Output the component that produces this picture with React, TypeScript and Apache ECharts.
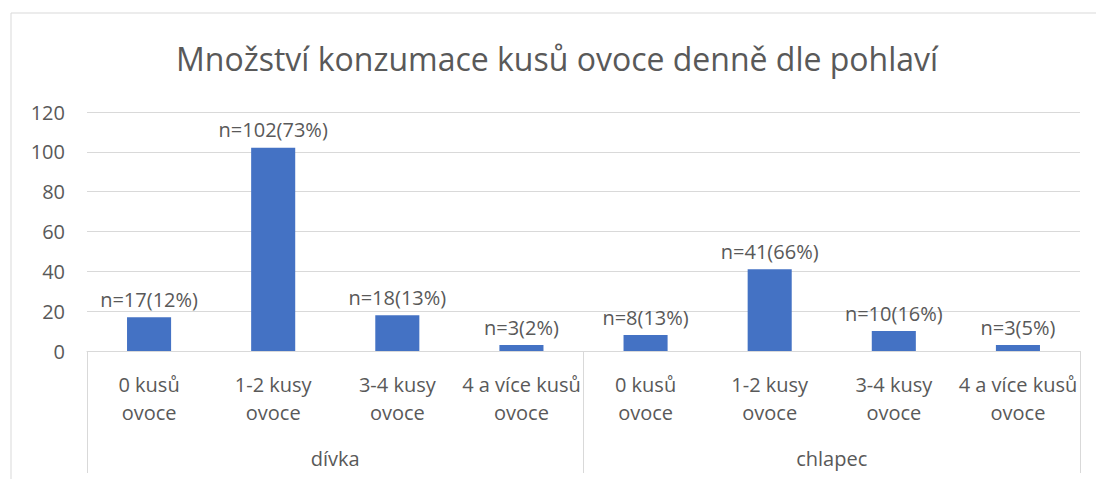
import React, { useEffect, useRef } from "react";
import * as echarts from "echarts";

const title = "Množství konzumace kusů ovoce denně dle pohlaví";
const categories = [
  "0 kusů\novoce",
  "1-2 kusy\novoce",
  "3-4 kusy\novoce",
  "4 a více kusů\novoce",
  "0 kusů\novoce",
  "1-2 kusy\novoce",
  "3-4 kusy\novoce",
  "4 a více kusů\novoce",
];
const groups = ["dívka", "chlapec"];
const values = [17, 102, 18, 3, 8, 41, 10, 3];
const labels = [
  "n=17(12%)",
  "n=102(73%)",
  "n=18(13%)",
  "n=3(2%)",
  "n=8(13%)",
  "n=41(66%)",
  "n=10(16%)",
  "n=3(5%)",
];
const yTicks = { min: 0, max: 120, interval: 20 };

const FONT = "'Open Sans', 'Noto Sans', sans-serif";
const TXT = "#595959";
const LINE = "#d9d9d9";

export default function App() {
  const ref = useRef<HTMLDivElement>(null);
  useEffect(() => {
    document.body.style.margin = "0";
    const chart = echarts.init(ref.current!, undefined, { renderer: "svg" });
    chart.setOption({
      animation: false,
      textStyle: { fontFamily: FONT },
      title: {
        text: title,
        left: 171,
        top: 37,
        textStyle: { fontFamily: FONT, fontSize: 32, fontWeight: "normal", color: TXT },
      },
      graphic: [
        { type: "line", shape: { x1: 11, y1: 13, x2: 1096, y2: 13 }, style: { stroke: LINE, lineWidth: 1 } },
        { type: "line", shape: { x1: 11, y1: 13, x2: 11, y2: 479 }, style: { stroke: LINE, lineWidth: 1 } },
      ],
      grid: { left: 87, right: 16, top: 112, bottom: 128 },
      xAxis: [
        {
          type: "category",
          data: categories,
          position: "bottom",
          axisLine: { lineStyle: { color: LINE } },
          axisTick: { show: false },
          axisLabel: {
            interval: 0,
            fontFamily: FONT,
            fontSize: 20,
            lineHeight: 28,
            color: TXT,
            margin: 19,
          },
        },
        {
          type: "category",
          data: groups,
          position: "bottom",
          axisLine: { show: false },
          axisTick: { show: true, length: 122, lineStyle: { color: LINE } },
          axisLabel: {
            interval: 0,
            fontFamily: FONT,
            fontSize: 20,
            color: TXT,
            margin: 97,
          },
        },
      ],
      yAxis: {
        type: "value",
        min: yTicks.min,
        max: yTicks.max,
        interval: yTicks.interval,
        axisLine: { show: false },
        axisTick: { show: false },
        splitLine: { lineStyle: { color: LINE } },
        axisLabel: { fontFamily: FONT, fontSize: 20, color: TXT, margin: 22 },
      },
      series: [
        {
          type: "bar",
          xAxisIndex: 0,
          data: values,
          barWidth: "35.5%",
          itemStyle: { color: "#4472c4" },
          label: {
            show: true,
            position: "top",
            distance: 8,
            fontFamily: FONT,
            fontSize: 20,
            color: TXT,
            formatter: (p: any) => labels[p.dataIndex],
          },
        },
      ],
    });
    return () => chart.dispose();
  }, []);
  return <div ref={ref} style={{ width: 1096, height: 479 }} />;
}
